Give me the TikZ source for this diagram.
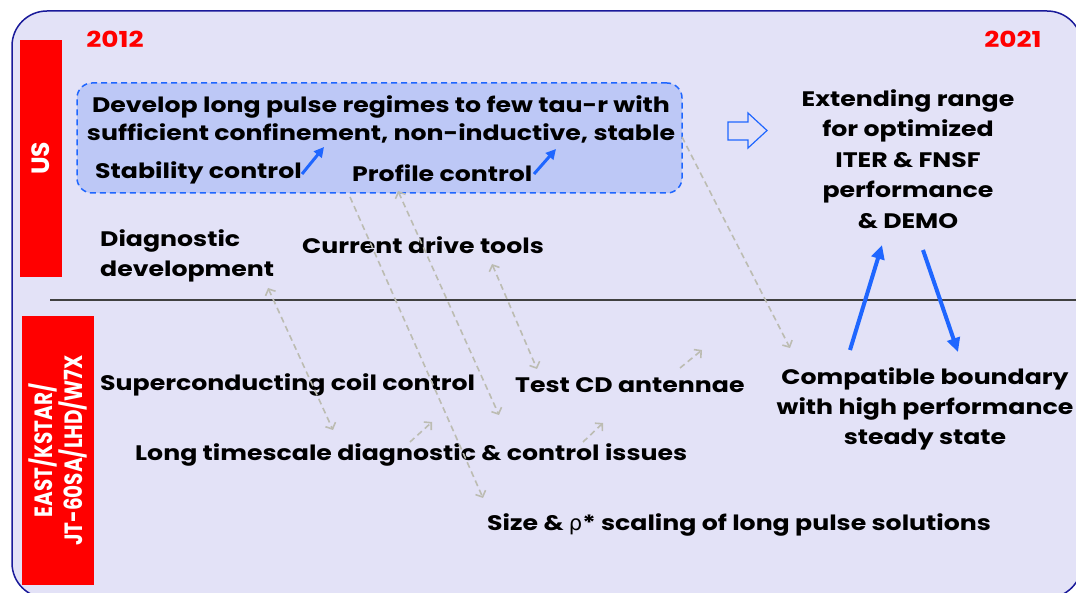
\documentclass[tikz,border=0pt]{standalone}
\usepackage{amsmath}
\usepackage{fontspec}
\setmainfont{Poppins}[FakeStretch=1.2]
\newfontfamily\plainfont{Poppins}
\newfontfamily\narrowfont{Poppins}[FakeStretch=0.8]
\newfontfamily\greekfont{DejaVu Sans}
\usetikzlibrary{positioning, arrows.meta, shapes}
\definecolor{lav}{HTML}{E3E2F7}
\definecolor{navy}{HTML}{1A1A9A}
\definecolor{boxfill}{HTML}{BDC8F6}
\definecolor{myblue}{HTML}{1F66FF}
\definecolor{gry}{HTML}{BCBCB2}
\definecolor{myred}{HTML}{FF0000}

\begin{document}
\begin{tikzpicture}[x=1pt, y=-1pt, font=\fontsize{21}{28}\selectfont\bfseries]
\tikzstyle{txt}=[inner sep=0pt, anchor=west]
\tikzstyle{yr}=[text=myred, inner sep=0pt, font=\fontsize{22}{26}\selectfont\bfseries]
\tikzstyle{bar}=[fill=myred, text=white, rotate=90, inner sep=0pt]
\tikzstyle{link}=[draw=gry, line width=1.6pt, dash pattern=on 6pt off 4pt, >={Straight Barb[length=5pt,width=11pt]}, ->]
\tikzstyle{both}=[link, <->]
\tikzstyle{push}=[draw=myblue, line width=3pt, -{Triangle[length=10pt,width=10pt]}]
\tikzstyle{bigpush}=[draw=myblue, line width=4pt, -{Triangle[length=14pt,width=13pt]}]

\useasboundingbox (0,0) rectangle (1076,593);
\fill[white] (0,0) rectangle (1076,593);
\draw[navy, fill=lav, line width=1.5pt, rounded corners=35pt] (12,11) rectangle (1082,598);

\node[bar, minimum width=237pt, minimum height=42pt, font=\plainfont\fontsize{25}{28}\selectfont\bfseries] (US) at (41,158.5) {US};
\node[bar, minimum width=269pt, minimum height=72pt, align=center, font=\narrowfont\fontsize{25}{30}\selectfont\bfseries] (EK) at (58,450.5) {EAST/KSTAR/\\JT-60SA/LHD/W7X};

\node[draw=myblue, fill=boxfill, rounded corners=15pt, line width=1.5pt, dash pattern=on 6pt off 4pt, minimum width=605pt, minimum height=110pt] (DB) at (379.5,138) {};

\node[yr] (Y1) at (115,39) {2012};
\node[yr] (Y2) at (1013,39) {2021};

\draw[black!75, line width=1.5pt] (50,300) -- (1076,300);

\draw[myblue, line width=1.2pt, fill=lav] (728,122) -- (748,122) -- (748,113) -- (767,130.5) -- (748,148) -- (748,140) -- (728,140) -- cycle;

\node[align=center, inner sep=0pt] (DL) at (381,119) {Develop long pulse regimes to few tau-r with\\sufficient confinement, non-inductive, stable};
\node[txt] (SC) at (95,173) {Stability control};
\node[txt] (PC) at (352,173) {Profile control};
\node[txt, align=left, font=\fontsize{21}{30}\selectfont\bfseries] (DD) at (100,256) {Diagnostic\\development};
\node[txt] (CD) at (302,245) {Current drive tools};
\node[align=center, inner sep=0pt, font=\fontsize{21}{30.5}\selectfont\bfseries] (ER) at (908,159) {Extending range\\for optimized\\ITER \& FNSF\\performance\\\& DEMO};
\node[txt] (SCC) at (100,385) {Superconducting coil control};
\node[txt] (TCD) at (515,385) {Test CD antennae};
\node[txt] (LT) at (135,455) {Long timescale diagnostic \& control issues};
\node[align=center, inner sep=0pt, font=\fontsize{21}{30}\selectfont\bfseries] (CB) at (925,409) {Compatible boundary\\with high performance\\steady state};
\node[txt] (SZ) at (487,525) {Size \& {\greekfont\mdseries ρ}* scaling of long pulse solutions};

\coordinate (a1) at (268,288); \coordinate (b1) at (333,430);
\coordinate (a2) at (350,197); \coordinate (b2) at (483,498);
\coordinate (a3) at (398,191); \coordinate (b3) at (499,415);
\coordinate (a4) at (492,264); \coordinate (b4) at (537,369);
\coordinate (a5) at (682,137); \coordinate (b5) at (790,348);
\coordinate (a6) at (410,442); \coordinate (b6) at (432,422);
\coordinate (a7) at (583,442); \coordinate (b7) at (603,423);
\coordinate (a8) at (680,368); \coordinate (b8) at (702,350);

\path
(a1) edge[both] (b1)
(a2) edge[link] (b2)
(a3) edge[both] (b3)
(a4) edge[both] (b4)
(a5) edge[link] (b5)
(a6) edge[link] (b6)
(a7) edge[link] (b7)
(a8) edge[link] (b8);

\coordinate (s1) at (302,174); \coordinate (t1) at (324,147);
\coordinate (s2) at (534,174); \coordinate (t2) at (556,149);
\coordinate (s3) at (850,350); \coordinate (t3) at (882,245);
\coordinate (s4) at (923,250); \coordinate (t4) at (958,352);

\path
(s1) edge[push] (t1)
(s2) edge[push] (t2)
(s3) edge[bigpush] (t3)
(s4) edge[bigpush] (t4);

\end{tikzpicture}
\end{document}
